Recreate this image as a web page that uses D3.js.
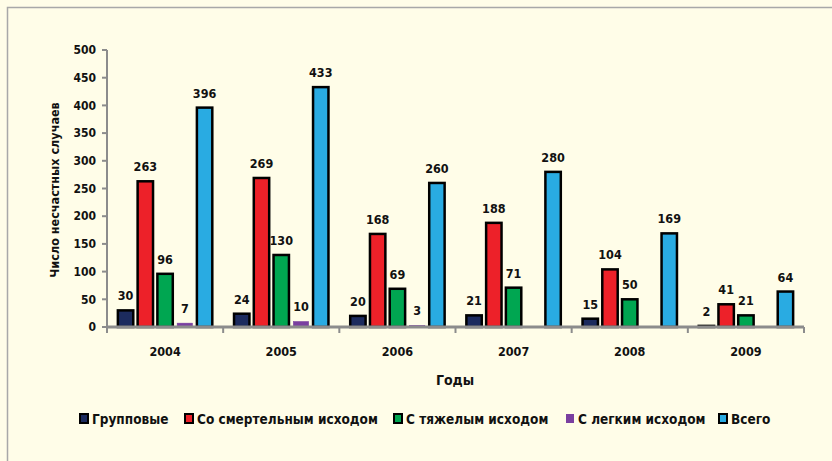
<!DOCTYPE html>
<html><head><meta charset="utf-8">
<script src="https://cdn.jsdelivr.net/npm/d3@7"></script>
<style>
html,body{margin:0;padding:0;background:#FFFDE8;}
svg text{font-family:"DejaVu Sans Condensed","DejaVu Sans",sans-serif;font-stretch:condensed;font-weight:bold;fill:#111;}
</style></head><body>
<svg id="c" width="832" height="461"></svg>
<script>
const years = ["2004","2005","2006","2007","2008","2009"];
const seriesNames = ["Групповые","Со смертельным исходом","С тяжелым исходом","С легким исходом","Всего"];
const group = [30,24,20,21,15,2];
const fatal = [263,269,168,188,104,41];
const severe = [96,130,69,71,50,21];
const light = [7,10,3,0,0,0];
const total = [396,433,260,280,169,64];
const yTicks = [0,50,100,150,200,250,300,350,400,450,500];
const colors = ["#1C2B5E","#ED2129","#00A651","#7A3FA0","#29ABE2"];
const values = [group, fatal, severe, light, total];

const svg = d3.select("#c");
svg.append("rect").attr("x",0).attr("y",0).attr("width",832).attr("height",461).attr("fill","#FFFDE8");
svg.append("path").attr("d","M7.5,461V7.5H832").attr("fill","none").attr("stroke","#A8A8A8").attr("stroke-width",1.5);

const x0 = d3.scaleBand().domain(years).range([107,804]).paddingInner(0).paddingOuter(0);
const x1 = d3.scaleBand().domain(seriesNames).range([0,x0.bandwidth()]).paddingInner(0.22).paddingOuter(0.55);
const y = d3.scaleLinear().domain([0,500]).range([327,50]);

// y axis
const ya = svg.append("g");
ya.append("line").attr("x1",107).attr("x2",107).attr("y1",y(500)).attr("y2",y(0)).attr("stroke","#8C8C8C").attr("stroke-width",2);
yTicks.forEach(t=>{
  ya.append("line").attr("x1",102).attr("x2",107).attr("y1",y(t)).attr("y2",y(t)).attr("stroke","#8C8C8C").attr("stroke-width",2);
  ya.append("text").attr("x",96).attr("y",y(t)).attr("dy","0.35em").attr("text-anchor","end").attr("font-size",12).text(t);
});

// bars
const gB = svg.append("g");
years.forEach((yr,i)=>{
  seriesNames.forEach((s,j)=>{
    const v = values[j][i];
    if (v<=0) return;
    const bx = x0(yr)+x1(s);
    const purple = j===3;
    gB.append("rect").attr("x",bx).attr("y",y(v)).attr("width",x1.bandwidth()).attr("height",y(0)-y(v))
      .attr("fill",colors[j]).attr("stroke",purple?colors[j]:"#000").attr("stroke-width",purple?0.5:2.5);
    gB.append("text").attr("x",bx+x1.bandwidth()/2).attr("y",y(v)-10).attr("text-anchor","middle").attr("font-size",12.5).text(v);
  });
});

// x axis
const xa = svg.append("g");
xa.append("line").attr("x1",107).attr("x2",804).attr("y1",327).attr("y2",327).attr("stroke","#8C8C8C").attr("stroke-width",3);
years.concat(["end"]).forEach((yr,i)=>{
  const xx = yr==="end"?804:x0(yr);
  xa.append("line").attr("x1",xx).attr("x2",xx).attr("y1",327).attr("y2",333).attr("stroke","#8C8C8C").attr("stroke-width",2);
});
years.forEach(yr=>{
  xa.append("text").attr("x",x0(yr)+x0.bandwidth()/2).attr("y",356).attr("text-anchor","middle").attr("font-size",12.5).text(yr);
});

svg.append("text").attr("x",455).attr("y",385).attr("text-anchor","middle").attr("font-size",14).text("Годы");
svg.append("text").attr("transform","translate(59,190) rotate(-90)").attr("text-anchor","middle").attr("font-size",12.5).text("Число несчастных случаев");

// legend
const legX = [79,184,393,565,718];
const lg = svg.append("g");
seriesNames.forEach((s,j)=>{
  const purple = j===3;
  lg.append("rect").attr("x",legX[j]+1).attr("y",414).attr("width",8).attr("height",9)
    .attr("fill",colors[j]).attr("stroke",purple?"none":"#000").attr("stroke-width",2);
  lg.append("text").attr("x",legX[j]+13).attr("y",419).attr("dy","0.35em").attr("font-size",13.5).text(s);
});
</script>
</body></html>
